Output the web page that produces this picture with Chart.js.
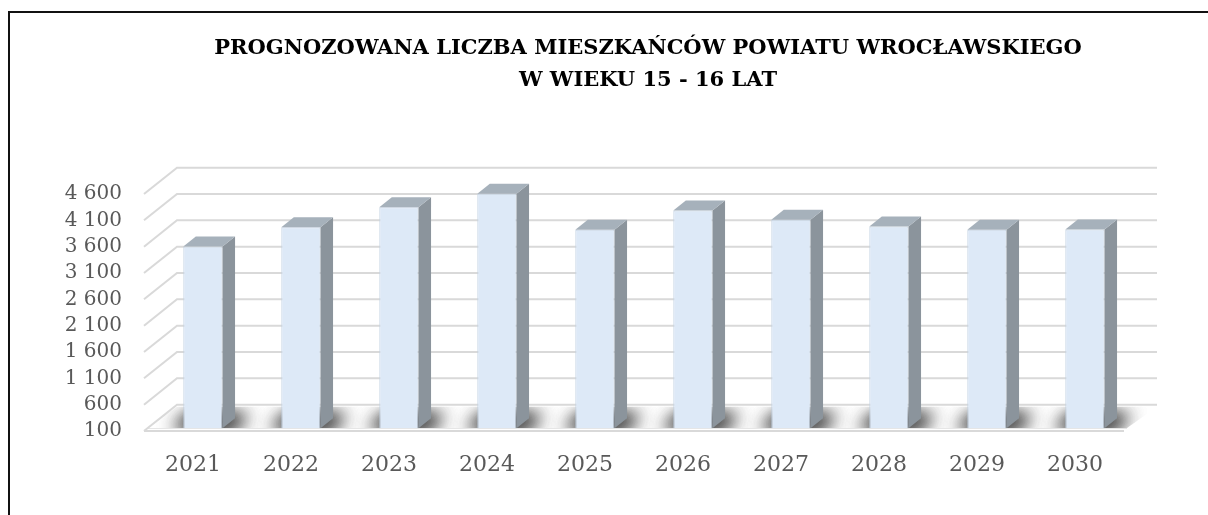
<!DOCTYPE html>
<html>
<head>
<meta charset="utf-8">
<script src="https://cdn.jsdelivr.net/npm/chart.js@4.4.0/dist/chart.umd.min.js"></script>
<style>
html, body { margin: 0; padding: 0; background: #ffffff; }
canvas { display: block; }
</style>
</head>
<body>
<canvas id="chart" width="1208" height="515"></canvas>
<script>
// ---- data ----
const categories = ['2021', '2022', '2023', '2024', '2025', '2026', '2027', '2028', '2029', '2030'];
const populationValues = [3454, 3820, 4199, 4453, 3771, 4136, 3960, 3833, 3771, 3776];
const yTickValues = [100, 600, 1100, 1600, 2100, 2600, 3100, 3600, 4100, 4600];
const titleLines = ['PROGNOZOWANA LICZBA MIESZKAŃCÓW POWIATU WROCŁAWSKIEGO', 'W WIEKU 15 - 16 LAT'];

// ---- 3D look ----
const DEPTH_X = 33;
const F1 = 0.30, F2 = 0.68;
const COLORS = { front: '#dde9f7', frontEdge: '#c3d2e2', side: '#8b949c', top: '#a6b1bb', grid: '#d9d9d9', text: '#595959' };

function fmt(v) { return String(v).replace(/\B(?=(\d{3})+(?!\d))/g, ' '); }
function depthY(chart) {
  const y = chart.scales.y;
  return y.getPixelForValue(yTickValues[0]) - y.getPixelForValue(yTickValues[1]);
}
function poly(ctx, pts) {
  ctx.beginPath();
  ctx.moveTo(pts[0][0], pts[0][1]);
  for (let i = 1; i < pts.length; i++) ctx.lineTo(pts[i][0], pts[i][1]);
  ctx.closePath();
}

const frame3d = {
  id: 'frame3d',
  beforeDraw(chart) {
    const ctx = chart.ctx;
    ctx.save();
    ctx.fillStyle = '#ffffff';
    ctx.fillRect(0, 0, chart.width, chart.height);
    ctx.fillStyle = '#111111';
    ctx.fillRect(8, 11, chart.width - 8, 2);
    ctx.fillRect(8, 11, 2, chart.height - 11);
    ctx.restore();
  },
  beforeDatasetsDraw(chart) {
    const { ctx, chartArea: a } = chart;
    const y = chart.scales.y;
    const dx = DEPTH_X, dy = depthY(chart);
    ctx.save();
    // floor front edge (slab)
    ctx.strokeStyle = '#e6e6e6';
    ctx.lineWidth = 1;
    ctx.beginPath(); ctx.moveTo(a.left + 3, a.bottom - 2.5); ctx.lineTo(a.right + 3, a.bottom - 2.5); ctx.stroke();
    ctx.strokeStyle = COLORS.grid;
    ctx.lineWidth = 2;
    ctx.beginPath(); ctx.moveTo(a.left, a.bottom); ctx.lineTo(a.right, a.bottom); ctx.stroke();
    // walls: back gridlines + left diagonals
    ctx.strokeStyle = COLORS.grid;
    ctx.lineWidth = 2;
    y.ticks.forEach(t => {
      const py = y.getPixelForValue(t.value);
      ctx.beginPath();
      ctx.moveTo(a.left, py);
      ctx.lineTo(a.left + dx, py - dy);
      ctx.lineTo(a.right + dx, py - dy);
      ctx.stroke();
    });
    // floor shadows
    ctx.save();
    poly(ctx, [[a.left + 3, a.bottom - 3], [a.right + 3, a.bottom - 3], [a.right + dx, a.bottom - dy + 2], [a.left + dx, a.bottom - dy + 2]]);
    ctx.clip();
    const meta = chart.getDatasetMeta(0);
    const OFF = 4000;
    ctx.shadowColor = 'rgba(25,25,25,0.85)';
    ctx.shadowBlur = 18;
    ctx.shadowOffsetX = OFF;
    ctx.fillStyle = '#000';
    for (let pass = 0; pass < 2; pass++) {
      meta.data.forEach(bar => {
        const p = bar.getProps(['x', 'width', 'base'], true);
        const xl = p.x - p.width / 2 - 10, xr = p.x + p.width / 2 + 10;
        const b = p.base;
        const d1 = F1 - 0.02, d2 = F2 + 0.12;
        poly(ctx, [
          [xl + d1 * dx - OFF, b - d1 * dy],
          [xr + d1 * dx - OFF, b - d1 * dy],
          [xr + d2 * dx - OFF, b - d2 * dy],
          [xl + d2 * dx - OFF, b - d2 * dy]
        ]);
        ctx.fill();
      });
    }
    ctx.restore();
    ctx.restore();
    // shift bars into the depth of the floor
    ctx.save();
    ctx.translate(F1 * dx, -F1 * dy);
  },
  afterDatasetsDraw(chart) {
    const ctx = chart.ctx;
    const dy = depthY(chart);
    const sx = (F2 - F1) * DEPTH_X, sy = (F2 - F1) * dy;
    const meta = chart.getDatasetMeta(0);
    meta.data.forEach(bar => {
      const p = bar.getProps(['x', 'y', 'base', 'width'], true);
      const xl = p.x - p.width / 2, xr = p.x + p.width / 2;
      const top = p.y, base = p.base;
      // side face
      poly(ctx, [[xr, top], [xr + sx, top - sy], [xr + sx, base - sy], [xr, base]]);
      ctx.fillStyle = COLORS.side;
      ctx.fill();
      // top face
      poly(ctx, [[xl, top], [xl + sx, top - sy], [xr + sx, top - sy], [xr, top]]);
      ctx.fillStyle = COLORS.top;
      ctx.fill();
    });
    ctx.restore();
  }
};

new Chart(document.getElementById('chart'), {
  type: 'bar',
  data: {
    labels: categories,
    datasets: [{
      data: populationValues,
      backgroundColor: COLORS.front,
      borderColor: COLORS.frontEdge,
      borderWidth: 1,
      barPercentage: 1,
      categoryPercentage: 0.4,
      clip: false
    }]
  },
  options: {
    responsive: false,
    animation: false,
    devicePixelRatio: 1,
    layout: { padding: { left: 40, right: -48, top: 0, bottom: 0 } },
    plugins: {
      legend: { display: false },
      tooltip: { enabled: false },
      title: {
        display: true,
        text: titleLines,
        color: '#000000',
        fullSize: true,
        align: 'center',
        font: { family: 'DejaVu Serif', size: 21, weight: 'bold', lineHeight: '32px' },
        padding: { top: 33, bottom: 97 }
      }
    },
    scales: {
      x: {
        type: 'category',
        offset: true,
        grid: { display: false, drawTicks: false },
        border: { display: false },
        ticks: { color: COLORS.text, padding: 21, autoSkip: false, maxRotation: 0, font: { family: 'DejaVu Serif', size: 22 } },
        afterFit(s) { s.height = 84; }
      },
      y: {
        type: 'linear',
        position: 'left',
        min: yTickValues[0],
        max: yTickValues[yTickValues.length - 1],
        grid: { display: false, drawTicks: false },
        border: { display: false },
        afterBuildTicks(s) { s.ticks = yTickValues.map(v => ({ value: v })); },
        ticks: { color: COLORS.text, padding: 22, autoSkip: false, font: { family: 'DejaVu Serif', size: 20 }, callback: v => fmt(v) },
        afterFit(s) { s.width = 104; }
      },
      yRight: {
        type: 'linear',
        position: 'right',
        display: true,
        grid: { display: false, drawTicks: false },
        border: { display: false },
        ticks: { display: false },
        afterFit(s) { s.width = 132; }
      }
    }
  },
  plugins: [frame3d]
});
</script>
</body>
</html>
